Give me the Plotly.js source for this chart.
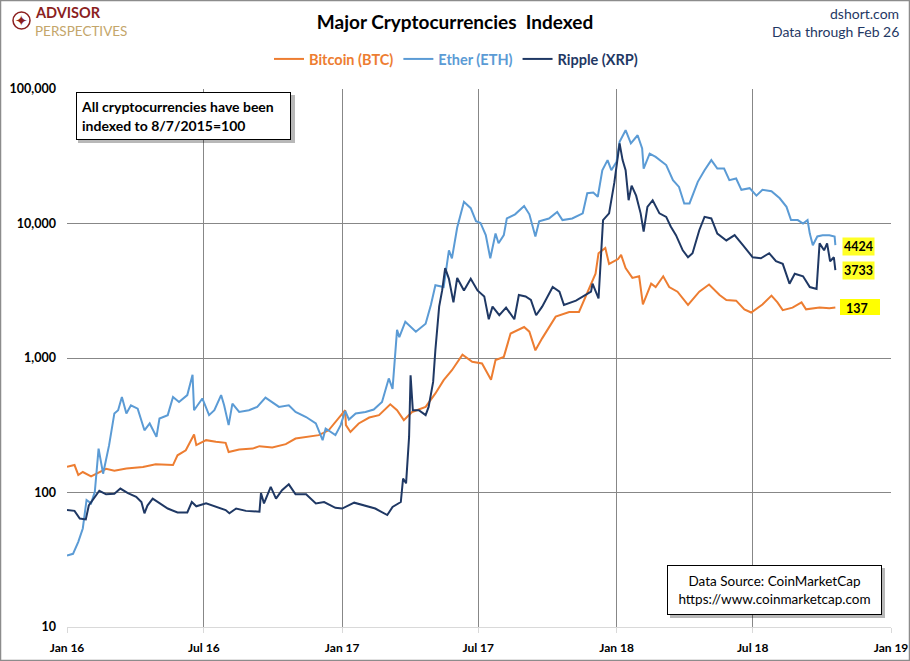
<!DOCTYPE html>
<html>
<head>
<meta charset="utf-8">
<script src="https://cdn.plot.ly/plotly-3.0.1.min.js"></script>
<style>
  body { margin: 0; background: #fff; }
  #chart { width: 910px; height: 661px; }
</style>
</head>
<body>
<div id="chart"></div>
<script>
// indices, x = days since 2016-01-01
const btcDays = [0,10,15,21,32,43,52,63,79,101,118,141,147,158,169,172,185,198,211,215,229,247,256,273,291,304,322,335,348,359,370,371,
  377,388,402,415,430,439,448,459,477,490,501,512,526,539,552,564,570,581,590,608,615,623,632,650,668,681,694,703,707,716,721,
  733,737,743,752,761,766,777,783,793,801,812,826,841,854,868,877,890,901,910,925,937,945,952,965,977,983,1001,1014,1022];
const btcIdx = [155,160,135,142,132,142,150,145,151,155,162,160,189,206,270,225,245,238,234,200,209,212,221,216,229,252,259,267,290,345,409,317,
  282,326,361,376,453,409,345,397,433,545,685,811,1057,936,910,690,965,1019,1520,1700,1570,1140,1400,2030,2200,2200,3180,4230,6010,6570,5000,
  5440,5840,4660,3940,4050,2500,3570,3370,4050,3370,3110,2480,3110,3520,2940,2700,2670,2300,2180,2500,2910,2590,2270,2370,2590,2300,2370,2340,2370];

const ethDays = [0,8,15,21,26,32,37,42,48,56,63,68,73,79,85,94,103,110,119,123,134,141,149,160,167,169,180,189,196,205,209,215,220,229,242,253,264,273,282,295,304,318,331,340,344,357,364,370,
  375,384,397,408,419,428,433,439,442,450,464,477,484,490,501,508,512,519,528,537,544,550,557,563,570,574,581,585,596,608,615,623,628,641,652,659,672,686,692,700,706,
  712,719,724,731,735,743,750,759,765,767,775,783,797,806,814,821,828,839,848,857,865,874,881,890,897,908,917,925,937,948,957,963,972,979,985,988,992,998,1005,1014,1021,1022];
const ethIdx = [34,35,43,54,88,83,101,212,138,225,387,409,513,387,445,420,290,326,259,355,376,513,471,530,750,409,500,376,409,530,445,317,458,397,409,433,508,471,433,445,397,364,326,245,299,267,317,404,
  349,387,397,414,471,705,590,1620,1430,1860,1570,1800,2480,3480,3370,6320,5510,9330,14500,13000,10400,10100,8190,5510,8420,7140,8190,10900,11700,13500,11700,8010,10400,10900,12200,10600,10900,11900,16800,17000,15800,
  24900,29600,24900,28800,40500,49400,39400,45300,36100,25600,33100,31300,27200,21000,18700,14100,14100,20400,24900,29600,25600,25600,21000,21600,17800,18300,16100,17800,17400,15400,13300,10600,10600,10000,10600,8420,6900,8010,8190,8190,8010,6900];

const xrpDays = [0,10,17,25,29,37,43,52,63,71,81,92,99,103,107,114,123,134,147,160,166,172,185,198,211,216,225,238,256,258,262,271,278,286,295,304,318,331,342,357,366,
  382,397,410,426,433,444,447,451,455,457,460,468,477,481,487,490,495,499,503,508,514,519,528,537,546,555,561,566,575,584,595,601,610,617,624,632,646,655,661,677,690,697,699,707,
  713,721,728,735,739,743,747,751,757,763,767,772,779,788,797,803,810,819,826,832,841,848,857,865,877,888,899,912,923,934,943,952,961,968,979,988,997,1001,1007,1011,1015,1020,1022];
const xrpIdx = [74,73,64,63,80,93,103,97,98,107,99,93,85,70,80,90,83,76,71,71,85,79,83,78,74,70,76,73,72,99,83,110,90,104,115,97,97,83,85,77,76,
  84,80,76,68,78,85,127,117,259,745,409,409,376,433,664,1150,2410,3180,4660,3880,2590,3940,3180,3880,3180,2870,1940,2410,2080,2370,1940,2940,2870,2700,2080,2410,3370,3110,2480,2670,2940,3110,3570,2770,
  10600,11900,20100,39400,29600,24900,14900,19100,16100,11900,8700,13300,14900,11900,11200,9500,8190,6320,5610,6010,8910,11200,10900,8420,7480,8190,6900,5610,5510,6010,5240,5010,3570,4230,4050,3370,3260,7120,6320,7120,5240,5610,4500];

const tickDates = ['2016-01-01','2016-07-01','2017-01-01','2017-07-01','2018-01-01','2018-07-01','2019-01-01'];
const tickLabels = ['Jan 16','Jul 16','Jan 17','Jul 17','Jan 18','Jul 18','Jan 19'];
const yTicks = [10, 100, 1000, 10000, 100000];
const yLabels = ['10', '100', '1,000', '10,000', '100,000'];
const lastLabels = ['4424', '3733', '137'];

const FONT = 'Lato, "Open Sans", "Liberation Sans", sans-serif';
const W = 910, H = 661;
const L = 67, R = 891, T = 89, B = 627;

// pixel -> paper helpers for the decorations
const px = x => (x - L) / (R - L);
const py = y => (B - y) / (B - T);

function dayToDate(d) {
    return new Date(Date.UTC(2016, 0, 1) + d * 86400000).toISOString().slice(0, 10);
}

function serie(days, vals, name, color) {
    return {
        x: days.map(dayToDate), y: vals, type: 'scatter', mode: 'lines',
        name: '<span style="color:' + color + '"><b>' + name + '</b></span>',
        line: { color: color, width: 2 }
    };
}

const traces = [
    serie(btcDays, btcIdx, 'Bitcoin (BTC)', '#ED7D31'),
    serie(ethDays, ethIdx, 'Ether (ETH)', '#5B9BD5'),
    serie(xrpDays, xrpIdx, 'Ripple (XRP)', '#1F3864')
];

const shapes = [
    // outer frame
    { type: 'rect', xref: 'paper', yref: 'paper', x0: px(0.5), x1: px(909.5), y0: py(660.5), y1: py(0.5),
      line: { color: '#8c8c8c', width: 1.5 }, layer: 'below' },
    // box shadows
    { type: 'rect', xref: 'paper', yref: 'paper', x0: px(78), x1: px(295), y0: py(143), y1: py(95),
      line: { width: 0 }, fillcolor: 'rgba(0,0,0,0.28)' },
    { type: 'rect', xref: 'paper', yref: 'paper', x0: px(670), x1: px(885), y0: py(618), y1: py(568),
      line: { width: 0 }, fillcolor: 'rgba(0,0,0,0.28)' },
    // logo ring
    { type: 'circle', xref: 'paper', yref: 'paper', x0: px(13), x1: px(30), y0: py(29), y1: py(12),
      line: { color: '#8b1f1f', width: 1.5 } },
    // yellow tag behind 137
    { type: 'rect', xref: 'paper', yref: 'paper', x0: px(840), x1: px(880), y0: py(315), y1: py(299),
      line: { width: 0 }, fillcolor: '#ffff00' }
];

function note(x, y, text, extra) {
    return Object.assign({ xref: 'paper', yref: 'paper', x: px(x), y: py(y), text: text, showarrow: false,
                           xanchor: 'center', yanchor: 'middle' }, extra);
}

const annotations = [
    note(21.5, 20.5, '✦', { font: { family: 'DejaVu Sans', size: 15, color: '#8b1f1f' } }),
    note(34, 22.5, '<b>ADVISOR</b>', { xanchor: 'left', yanchor: 'bottom', borderpad: 0,
        font: { family: FONT, size: 14.5, color: '#8b1f1f' } }),
    note(34, 22.5, 'PERSPECTIVES', { xanchor: 'left', yanchor: 'top', borderpad: 0,
        font: { family: FONT, size: 13.5, color: '#c4a66a' } }),
    note(901, 14, 'dshort.com', { xanchor: 'right', font: { family: FONT, size: 14, color: '#1F3864' } }),
    note(901, 32, 'Data through Feb 26', { xanchor: 'right', font: { family: FONT, size: 14, color: '#1F3864' } }),
    note(183.5, 116, '<b>All cryptocurrencies have been<br>indexed to 8/7/2015=100</b>', {
        align: 'left', width: 205, height: 38, bgcolor: '#ffffff', bordercolor: '#000000', borderwidth: 1, borderpad: 4,
        font: { family: FONT, size: 14, color: '#000000' } }),
    note(774.5, 590, 'Data Source: CoinMarketCap<br>https://www.coinmarketcap.com', {
        align: 'center', width: 205, height: 40, bgcolor: '#ffffff', bordercolor: '#000000', borderwidth: 1, borderpad: 4,
        font: { family: FONT, size: 13.5, color: '#000000' } }),
    note(858, 246, '<b>' + lastLabels[0] + '</b>', { bgcolor: 'rgba(255,255,0,0.85)', borderpad: 1,
        font: { family: FONT, size: 12.5, color: '#000000' } }),
    note(858, 270, '<b>' + lastLabels[1] + '</b>', { bgcolor: 'rgba(255,255,0,0.85)', borderpad: 1,
        font: { family: FONT, size: 12.5, color: '#000000' } }),
    note(857, 308, '<b>' + lastLabels[2] + '</b>', { font: { family: FONT, size: 12.5, color: '#000000' } })
];

const layout = {
    width: W, height: H,
    margin: { l: L, r: W - R, t: T, b: H - B },
    paper_bgcolor: '#ffffff', plot_bgcolor: '#ffffff',
    font: { family: FONT, color: '#000000' },
    title: { text: '<b>Major Cryptocurrencies  Indexed</b>', x: 0.5, xanchor: 'center', y: 1 - 22 / H, yanchor: 'middle',
             font: { family: FONT, size: 19, color: '#000000' } },
    showlegend: true,
    legend: { orientation: 'h', x: px(456), xanchor: 'center', y: py(59), yanchor: 'middle',
              font: { family: FONT, size: 14.5 }, itemwidth: 30, bgcolor: 'rgba(0,0,0,0)' },
    xaxis: {
        type: 'date', range: ['2016-01-01', '2019-01-01'],
        tickvals: tickDates, ticktext: tickLabels,
        showgrid: true, gridcolor: '#878787', gridwidth: 1,
        showline: true, linecolor: '#d9d9d9', linewidth: 1,
        ticks: 'outside', ticklen: 5, tickcolor: '#d9d9d9', ticklabelstandoff: 5,
        tickfont: { family: FONT, size: 12, color: '#000000', weight: 'bold' },
        zeroline: false, fixedrange: true
    },
    yaxis: {
        type: 'log', range: [1, 5],
        tickvals: yTicks, ticktext: yLabels,
        showgrid: true, gridcolor: '#878787', gridwidth: 1,
        showline: false, ticks: '', ticklabelstandoff: 10,
        tickfont: { family: FONT, size: 12.5, color: '#000000', weight: 'bold' },
        zeroline: false, fixedrange: true
    },
    shapes: shapes,
    annotations: annotations
};

Plotly.newPlot('chart', traces, layout, { displayModeBar: false, staticPlot: true });
</script>
</body>
</html>
